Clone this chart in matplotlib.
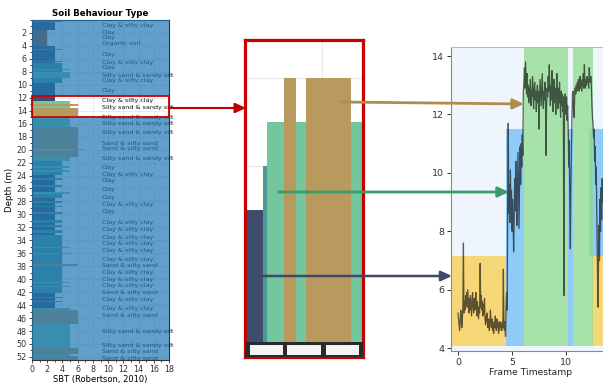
import numpy as np
import matplotlib
matplotlib.use("Agg")
import matplotlib.pyplot as plt
from matplotlib.patches import Rectangle, FancyArrowPatch
from matplotlib.ticker import AutoMinorLocator, MultipleLocator
import matplotlib.transforms as mtransforms

# ---------------- data: CPT soil behaviour type profile ----------------
layer_top = [0.0, 0.35, 1.5, 4.05, 4.5, 4.6, 6.3, 6.45, 6.6, 7.5, 7.7, 8.0, 9.0, 9.7,
             12.47, 12.57, 13.01, 13.33, 13.59, 14.76, 16.5, 19.9, 20.1, 21.2, 21.8,
             22.5, 22.8, 23.2, 23.5, 23.9, 24.4, 24.7, 25.4, 25.8, 26.5, 26.8, 27.5,
             28.0, 28.2, 28.7, 28.9, 29.7, 29.9, 30.8, 31.3, 31.6, 32.0, 32.4, 32.8,
             33.2, 35.0, 35.15, 36.0, 36.15, 37.6, 37.9, 40.5, 40.65, 41.1, 41.25,
             41.9, 42.05, 42.2, 42.8, 42.95, 43.3, 43.45, 44.5, 44.7, 46.9, 50.6,
             51.6, 51.9]
layer_bottom = layer_top[1:] + [52.5]
layer_sbt = [4, 3, 2, 3, 4, 3, 4, 3, 4, 5, 4, 5, 4, 3,
             4, 5, 6, 5, 6, 5, 6, 7, 6, 5, 4,
             5, 4, 5, 4, 3, 4, 3, 4, 3, 5, 4, 3,
             4, 3, 4, 3, 4, 3, 4, 3, 4, 3, 4, 3,
             4, 5, 4, 5, 4, 6, 4, 5, 4, 5, 4,
             6, 4, 3, 4, 3, 4, 3, 5, 6, 5, 6,
             5, 6]
sbt_colors = {2: "#a0522d", 3: "#3d4d6e", 4: "#4c9a96", 5: "#74c69d",
              6: "#b99a5e", 7: "#d9c27a"}

label_depth = [0.8, 1.9, 2.7, 3.7, 5.4, 6.5, 7.3, 8.5, 9.4, 10.9, 12.4, 13.5, 15.0,
               16.0, 17.4, 19.0, 19.9, 21.3, 22.7, 23.8, 24.8, 26.2, 27.4, 28.4,
               29.5, 31.2, 32.4, 33.5, 34.5, 35.5, 36.9, 37.9, 39.0, 40.0, 41.0,
               42.1, 43.1, 44.5, 45.6, 48.0, 50.2, 51.1, 52.2]
label_text = ["Clay & silty clay", "Clay", "Clay", "Organic soil", "Clay",
              "Clay & silty clay", "Clay", "Silty sand & sandy silt",
              "Clay & silty clay", "Clay", "Clay & silty clay",
              "Silty sand & sandy silt", "Silty sand & sandy silt",
              "Silty sand & sandy silt", "Silty sand & sandy silt",
              "Sand & silty sand", "Sand & silty sand", "Silty sand & sandy silt",
              "Clay", "Clay & silty clay", "Clay", "Clay", "Clay",
              "Clay & silty clay", "Clay", "Clay & silty clay", "Clay & silty clay",
              "Clay & silty clay", "Clay & silty clay", "Clay & silty clay",
              "Clay & silty clay", "Sand & silty sand", "Clay & silty clay",
              "Clay & silty clay", "Clay & silty clay", "Sand & silty sand",
              "Clay & silty clay", "Clay & silty clay", "Sand & silty sand",
              "Silty sand & sandy silt", "Silty sand & sandy silt",
              "Sand & silty sand", "Sand & silty sand"]
depth_ticks = list(range(2, 53, 2))
highlight_top, highlight_bottom = 11.7, 15.0

# ---------------- data: frame time series ----------------
frame_start, frame_step = 0.0, 0.05
signal_values = [
    # 0.00 - 4.40
    5.2, 5.0, 4.8, 4.6, 4.9, 5.3, 5.1, 4.7, 5.0, 5.4, 7.6, 5.2, 5.6, 5.3, 5.8, 5.5,
    5.9, 5.4, 6.0, 5.6, 5.2, 5.7, 5.3, 5.8, 5.5, 5.1, 5.6, 5.9, 5.4, 5.2, 5.7, 5.3,
    5.5, 5.9, 5.4, 5.1, 5.6, 5.3, 5.0, 5.4, 5.2, 6.9, 5.4, 5.8, 5.3, 5.6, 5.1, 5.5,
    5.2, 5.7, 5.0, 4.8, 5.1, 4.9, 5.2, 4.7, 4.9, 5.0, 4.6, 4.8, 5.3, 4.9, 4.7, 5.0,
    4.6, 4.8, 4.5, 4.9, 4.7, 5.1, 4.8, 4.6, 5.0, 4.7, 4.9, 4.5, 4.8, 4.6, 4.9, 4.7,
    4.8, 4.6, 4.9, 4.7, 6.7, 4.8, 4.6, 4.9, 4.4,
    # 4.45 - 6.05
    5.5, 5.9, 5.3, 9.2, 11.7, 8.6, 9.6, 8.3, 10.1, 8.8, 9.4, 8.0, 9.1, 8.4, 7.3, 8.6,
    9.8, 8.7, 10.4, 9.1, 8.2, 9.5, 10.7, 9.4, 8.1, 9.9, 10.9, 9.6, 11.0, 10.2, 11.3,
    10.6, 12.8,
    # 6.10 - 10.15
    13.1, 13.6, 12.9, 13.8, 13.2, 12.7, 13.4, 12.6, 13.0, 12.4, 12.9, 12.5, 13.2, 12.3,
    12.8, 12.6, 13.3, 12.7, 12.2, 12.9, 13.1, 12.5, 12.8, 12.1, 12.7, 13.0, 12.4, 12.8,
    11.5, 12.6, 13.2, 12.7, 12.3, 12.9, 13.4, 12.6, 12.2, 12.8, 12.5, 13.1, 12.4, 10.6,
    12.3, 12.9, 12.6, 13.3, 12.8, 13.7, 12.9, 12.3, 13.0, 12.5, 13.5, 12.7, 12.1, 12.8,
    13.2, 12.4, 12.9, 12.0, 12.7, 13.4, 12.6, 12.2, 12.9, 12.4, 13.1, 12.5, 11.9, 12.8,
    12.3, 12.7, 12.1, 12.6, 5.8, 12.2, 12.7, 12.4, 12.0, 12.6, 11.8, 12.3,
    # 10.20 - 10.60
    11.6, 10.2, 11.1, 9.0, 7.4, 9.6, 10.8, 11.9, 12.7,
    # 10.65 - 12.45
    12.8, 12.1, 11.9, 12.6, 12.9, 12.7, 13.0, 12.8, 13.1, 12.9, 13.2, 12.8, 13.0, 13.3,
    12.9, 13.1, 12.8, 13.2, 13.0, 13.4, 12.9, 13.7, 13.1, 12.9, 13.2, 13.0, 13.3, 13.1,
    13.2, 12.9, 13.6, 13.2, 13.1, 13.3, 13.0, 12.3, 11.9,
    # 12.50 - 13.40
    11.7, 11.2, 11.5, 10.4, 10.9, 9.6, 10.2, 8.7, 7.4, 5.4, 6.6, 8.2, 7.0, 9.1, 8.0,
    9.5, 8.4, 9.8, 9.0,
]
band_class = ["low", "mid", "high", "mid", "high", "mid", "low"]
band_start = [-0.65, 4.44, 6.10, 10.15, 10.65, 12.10, 12.45]
band_end = [4.44, 6.10, 10.15, 10.65, 12.50, 14.0, 14.0]
band_bottom = [4.07, 4.07, 4.07, 4.07, 4.07, 7.16, 4.07]
band_top = [7.16, 11.5, 15.0, 11.5, 15.0, 11.5, 7.16]
band_colors = {"low": ("#f6d778", 1.0), "mid": ("#8ecbf7", 1.0), "high": ("#8fdc8f", 0.75)}

# ---------------- figure ----------------
W, H = 603, 385
fig = plt.figure(figsize=(W / 100, H / 100), dpi=100)
fig.patch.set_facecolor("white")


def px_axes(x0, y0, x1, y1):
    return fig.add_axes([x0 / W, 1 - y1 / H, (x1 - x0) / W, (y1 - y0) / H])


tops = np.array(layer_top)
thick = np.array(layer_bottom) - tops
cols = [sbt_colors[s] for s in layer_sbt]

# ---- left: SBT profile ----
ax1 = px_axes(32, 20, 169, 360)
ax1.set_axisbelow(True)
ax1.barh(tops, layer_sbt, height=thick, align="edge", color=cols, linewidth=0, zorder=2)
for d, t in zip(label_depth, label_text):
    ax1.text(9.2, d, t, fontsize=4.6, va="center", ha="left", color="#111111", zorder=3)
ax1.set_xlim(0, 18)
ax1.set_ylim(52.47, 0)
ax1.xaxis.set_major_locator(MultipleLocator(2))
ax1.set_yticks(depth_ticks)
ax1.xaxis.set_minor_locator(AutoMinorLocator(2))
ax1.yaxis.set_minor_locator(AutoMinorLocator(2))
ax1.grid(True, which="major", color="#e6e6e6", lw=0.6)
ax1.tick_params(labelsize=5.8, length=2.5, width=0.6, pad=1.2, colors="#333333")
ax1.tick_params(which="minor", length=1.5, width=0.5)
ax1.set_title("Soil Behaviour Type", fontsize=6.2, fontweight="bold", pad=3)
ax1.set_xlabel("SBT (Robertson, 2010)", fontsize=6.0)
ax1.xaxis.set_label_coords(0.5, -0.043)
ax1.set_ylabel("Depth (m)", fontsize=6.2, labelpad=2)
for sp in ax1.spines.values():
    sp.set_color("#333333")
    sp.set_linewidth(0.8)
ax1.add_patch(Rectangle((0, 0), 18, highlight_top, facecolor="#1f77b4", alpha=0.7,
                        lw=0, zorder=5, clip_on=False))
ax1.add_patch(Rectangle((0, highlight_bottom), 18, 52.47 - highlight_bottom,
                        facecolor="#1f77b4", alpha=0.7, lw=0, zorder=5, clip_on=False))
ax1.add_patch(Rectangle((0, highlight_top), 18, highlight_bottom - highlight_top,
                        fill=False, edgecolor="#cc0000", lw=1.3, zorder=6, clip_on=False))

# ---- middle: zoomed band ----
ax2 = px_axes(245, 40, 363, 357)
ax2.set_axisbelow(True)
ax2.bar(tops, layer_sbt, width=thick, align="edge", color=cols, linewidth=0, zorder=2)
ax2.set_xlim(12.0, 15.06)
ax2.set_ylim(-0.34, 6.86)
ax2.set_xticks([14])
ax2.set_yticks([4, 6])
ax2.grid(True, color="#eaeaea", lw=0.9)
ax2.tick_params(length=0, labelbottom=False, labelleft=False)
for sp in ax2.spines.values():
    sp.set_color("#c80000")
    sp.set_linewidth(2.3)
bt = mtransforms.blended_transform_factory(ax2.transAxes, ax2.transData)
ax2.add_patch(Rectangle((0, -0.34), 1, 0.34, transform=bt, facecolor="#2a2a2a", lw=0, zorder=3))
for x0, x1 in [(0.042, 0.322), (0.356, 0.644), (0.686, 0.966)]:
    ax2.add_patch(Rectangle((x0, -0.29), x1 - x0, 0.22, transform=bt,
                            facecolor="#f4f4f4", lw=0, zorder=4))

# ---- right: time series with class bands ----
ax3 = px_axes(451, 47, 451 + 14.65 * 10.8, 351)
ax3.set_facecolor("#eef5fd")
order = [i for i in range(len(band_class)) if band_class[i] != "high"] + \
        [i for i in range(len(band_class)) if band_class[i] == "high"]
for i in order:
    c, a = band_colors[band_class[i]]
    ax3.add_patch(Rectangle((band_start[i], band_bottom[i]), band_end[i] - band_start[i],
                            band_top[i] - band_bottom[i], facecolor=c, alpha=a, lw=0,
                            zorder=1))
t = frame_start + frame_step * np.arange(len(signal_values))
ax3.plot(t, signal_values, color="black", alpha=0.62, lw=0.9, zorder=3)
ax3.set_xlim(-0.65, 14.0)
ax3.set_ylim(3.9, 14.31)
ax3.set_xticks([0, 5, 10])
ax3.set_yticks([4, 6, 8, 10, 12, 14])
ax3.tick_params(labelsize=6.8, length=3, width=0.7, colors="#333333", pad=2)
ax3.set_xlabel("Frame Timestamp", fontsize=6.6, labelpad=1, color="#222222")
for sp in ax3.spines.values():
    sp.set_color("#8a8a8a")
    sp.set_linewidth(0.8)
ax3.spines["top"].set_color("#bbbbbb")


# ---- connecting arrows ----
def arrow(x0, y0, x1, y1, color, lw):
    a = FancyArrowPatch((x0 / W, 1 - y0 / H), (x1 / W, 1 - y1 / H),
                        transform=fig.transFigure,
                        arrowstyle="-|>,head_length=0.65,head_width=0.3",
                        mutation_scale=10, lw=lw, color=color,
                        shrinkA=0, shrinkB=0, zorder=10)
    fig.add_artist(a)


arrow(169, 108, 246, 108, "#c00000", 1.5)
arrow(340, 102, 524, 104, "#b08d4c", 2.0)
arrow(279, 192, 509, 192, "#3a9a6a", 2.0)
arrow(254, 276, 452, 276, "#3f4a6b", 1.8)

fig.savefig("out.png", dpi=100)
